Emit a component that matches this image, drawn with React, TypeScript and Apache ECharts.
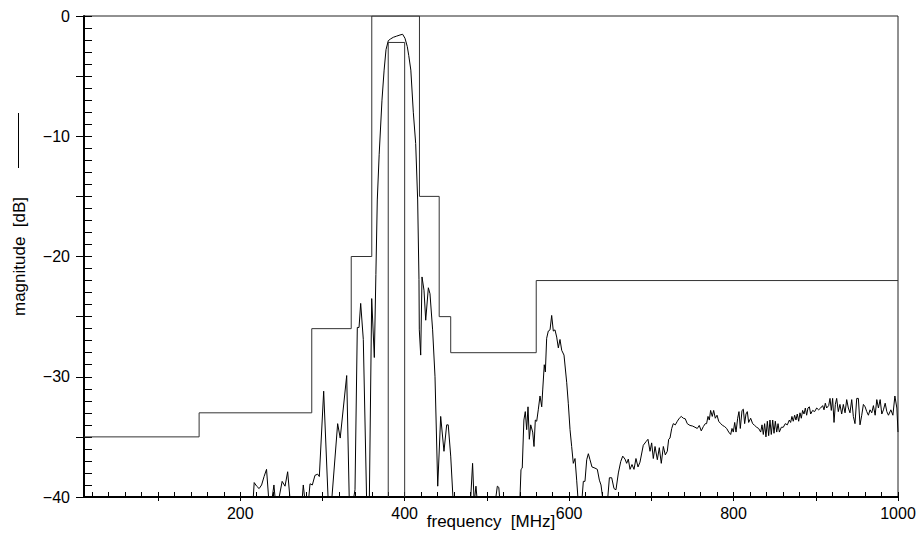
import React, { useEffect, useRef } from "react";
import * as echarts from "echarts";

// Upper limit mask: segment start frequencies [MHz] and levels [dB]
const maskFreq = [10, 150, 287, 335, 360, 418, 442, 456, 560, 1000];
const maskLevel = [-35, -33, -26, -20, 0, -15, -25, -28, -22, -22];

// Lower (passband) mask
const innerFreq = [380, 380, 400, 400];
const innerLevel = [-40, -2.2, -2.2, -40];

// Measured response, split into frequency ranges
const lowFreq = [10, 200, 215, 217, 220, 223, 226, 229, 232, 235, 238, 241, 243, 246, 251, 254.5, 257.7, 261, 275, 276.7, 279, 282.8, 284.9, 287.7, 290.9, 294.2, 296.2, 301.5, 307.1, 311, 318.5, 321.6, 329.5, 332.7, 337, 339.6, 342.4, 344.5, 346.5, 349.7, 353.8, 357, 359.9, 363.1];
const lowDb = [-45, -45, -41, -38.8, -39.1, -39.3, -39.0, -38.3, -37.7, -40.5, -40.5, -39.0, -40.5, -40.5, -38.7, -39.1, -37.9, -40.5, -40.5, -39.0, -40.5, -40.5, -38.9, -39.0, -38.2, -38.1, -38.3, -31.2, -40.5, -40.5, -33.9, -35.1, -29.9, -40.5, -40.5, -39.4, -25.9, -25.9, -23.9, -26.9, -40.5, -40.5, -23.5, -28.4];

const passFreq = [365, 366.7, 369, 372.4, 375, 377.3, 380.1, 383, 386.2, 390, 394.3, 397.5, 400.4, 403.2, 405, 407.5, 410.5, 413.4, 415.8, 417.4];
const passDb = [-21.5, -15.3, -11.5, -7.0, -4.5, -2.8, -2.05, -1.9, -1.77, -1.68, -1.58, -1.52, -1.85, -2.55, -3.3, -4.5, -8.0, -10.6, -15.3, -21.9];

const upFreq = [417.8, 419.5, 421.1, 423.5, 425.6, 428.8, 430.8, 434, 436.9, 440.2, 443.8, 447.8, 451.1, 453, 456, 459.1, 480, 482.6, 484.5, 486.7, 488.5, 510, 512.7, 514.5, 516, 540];
const upDb = [-26.1, -28.2, -21.7, -22.8, -25.3, -22.6, -23.1, -26.1, -30, -39.1, -33.3, -36.2, -34.0, -34.0, -36.6, -40.5, -40.5, -37.2, -40.5, -39.1, -40.5, -40.5, -39.1, -39.2, -40.5, -40.5];

const lobeFreq = [541.5, 543, 545, 546.7, 548.4, 550, 551.6, 553.3, 555.7, 557.3, 558.9, 560.6, 562.5, 564.6, 566.7, 567.9, 569.8, 571.1, 572.7, 574.7, 576.8, 578.8, 580.8, 582.8, 584.9, 586.9, 588.9, 591, 593.8, 597.1, 599, 601.1, 603.1, 605.1, 607.2, 609.2, 611.2, 615.3, 617.3, 619.3, 621.4, 623.4, 625.4, 627.8, 631.5, 634.3, 636.8, 638.8, 641.6, 646.5, 649, 651.8, 654.6, 657, 659.9, 662.8, 665.2, 668, 670, 672, 674.1, 676.5, 678.9, 681.3, 683.8, 686.2];
const lobeDb = [-37.7, -37.6, -33.6, -32.9, -34.4, -32.5, -35.2, -34.0, -34.6, -35.8, -33.6, -33.7, -32.75, -31.6, -32.5, -31.1, -29.0, -29.6, -26.8, -26.2, -26.1, -24.9, -26.2, -26.1, -26.7, -27.6, -26.9, -27.8, -28.2, -30.5, -32.2, -34.4, -35.8, -37.2, -36.8, -38.6, -40.5, -40.5, -38.7, -38.7, -36.9, -36.4, -36.9, -37.5, -37.6, -37.7, -38.6, -39.0, -40.5, -40.5, -38.4, -38.4, -39.3, -39.4, -38.0, -37.05, -36.6, -36.85, -37.2, -36.85, -37.7, -37.3, -37.7, -36.8, -37.5, -37.1];

const tailFreq = [690.2, 693.5, 695.9, 698.4, 700.4, 702.4, 704.5, 707.3, 709.7, 712.1, 714.6, 717, 719.4, 721.1, 722.7, 724.8, 726.7, 729.2, 731.6, 734, 736.4, 738.9, 741.3, 743.7, 747, 750.2, 753.1, 755.9, 758.3, 760.7, 763.2, 765.6, 767.2, 768.9, 770.5, 772.1, 774.1, 775.8, 777.8, 779.9, 781.9, 784.3, 786.8, 789.2, 791.6, 794.1, 796.5, 798.1, 799.7, 801.4, 803, 805, 806.6, 808.2, 810.3, 811.9, 813.5, 815.1, 816.7, 818.4, 820.8, 823.2, 825.7, 828.1, 830.5, 833, 834.6, 836.2, 837.8, 839.4, 841.1, 842.7, 844.3, 845.9, 847.6, 849.2, 850.8, 852.5, 854.1, 855.7, 858.1, 860.5, 862.9, 865.4, 867.8, 869.4, 871, 872.6, 874.3, 875.9, 877.5, 879.2, 880.8, 882.4, 884, 885.7, 887.3, 888.9, 890.5, 892.2, 893.8, 896.2, 898.6, 901.1, 903.5, 905.9, 908.4, 910, 911.6, 913.2, 915.7, 917.3, 918.9, 920.5, 922.2, 923.8, 925.4, 927.4, 929.4, 931.5, 933.5, 935.6, 937.6, 939.6, 941.6, 943.7, 945.7, 947.7, 949.8, 951.8, 953.8, 955.9, 957.9, 960, 962, 964, 966, 968.1, 970.1, 972.2, 974.2, 976.2, 978.3, 980.3, 982.3, 984.4, 986.4, 988.4, 991.3, 993.8, 996.2, 998.6, 1000];
const tailDb = [-35.7, -35.4, -35.2, -36.2, -35.5, -36.8, -35.8, -36.9, -35.9, -37.2, -35.8, -36.5, -36.2, -35.2, -35.1, -34.3, -33.9, -34.0, -33.7, -33.45, -33.3, -33.45, -33.5, -33.9, -34.05, -34.1, -34.2, -34.3, -34.05, -34.5, -34.15, -33.9, -33.9, -33.3, -33.6, -32.8, -33.3, -32.8, -33.45, -33.2, -33.7, -33.9, -34.05, -34.15, -34.3, -34.6, -34.8, -34.3, -34.6, -33.8, -34.6, -33.45, -32.9, -34.3, -32.8, -32.7, -33.9, -33.1, -32.9, -33.8, -33.45, -33.9, -34.05, -34.2, -34.3, -34.6, -34.0, -34.8, -33.9, -35.0, -33.7, -34.9, -33.6, -34.8, -33.6, -34.7, -33.7, -34.6, -33.9, -34.6, -34.2, -34.2, -33.9, -34.0, -33.6, -33.8, -33.3, -33.7, -33.2, -33.6, -33.1, -33.7, -33.0, -33.45, -32.8, -33.1, -32.6, -33.2, -32.6, -32.5, -33.1, -32.8, -32.9, -32.6, -32.75, -32.6, -32.4, -32.75, -32.2, -32.6, -32.4, -31.8, -32.8, -31.8, -33.8, -32.3, -31.8, -32.9, -32.3, -33.1, -32.3, -33.0, -31.9, -32.6, -33.0, -31.9, -33.3, -33.9, -31.8, -31.8, -34.0, -33.2, -32.3, -32.5, -32.9, -33.2, -32.75, -33.0, -32.4, -33.2, -31.9, -32.6, -31.9, -33.1, -32.75, -32.2, -32.9, -33.2, -32.75, -33.2, -31.6, -32.6, -34.6];

// Axis ticks / labels
const xLabelValues = [200, 400, 600, 800, 1000];
const xMajorTicks = [100, 200, 300, 400, 500, 600, 700, 800, 900, 1000];
const yLabelValues = [0, -10, -20, -30, -40];
const yMajorTicks = [0, -5, -10, -15, -20, -25, -30, -35, -40];

const FONT = "'Liberation Sans', Arial, sans-serif";

function zip(a: number[], b: number[]) {
  return a.map((v, i) => [v, b[i]]);
}

export default function App() {
  const ref = useRef<HTMLDivElement>(null);
  useEffect(() => {
    if (!ref.current) return;
    const chart = echarts.init(ref.current, null, { renderer: "svg" });
    const xMinor: number[] = [];
    for (let v = 20; v <= 1000; v += 20) xMinor.push(v);
    const yMinor: number[] = [];
    for (let v = -40; v <= 0; v += 1) yMinor.push(v);

    const curve = [
      ...zip(lowFreq, lowDb),
      ...zip(passFreq, passDb),
      ...zip(upFreq, upDb),
      ...zip(lobeFreq, lobeDb),
      ...zip(tailFreq, tailDb),
    ];
    const fmt = (v: number) => (v < 0 ? "\u2212" + Math.abs(v) : String(v));

    chart.setOption({
      animation: false,
      backgroundColor: "#fff",
      textStyle: { fontFamily: FONT },
      grid: {
        left: 84,
        top: 16,
        width: 814,
        height: 481,
        show: true,
        borderColor: "#222",
        borderWidth: 1,
        containLabel: false,
        outerBoundsMode: "none",
      },
      xAxis: [
        {
          type: "value",
          position: "bottom",
          min: 10,
          max: 1000,
          name: "frequency  [MHz]",
          nameLocation: "middle",
          nameGap: 16,
          nameMoveOverlap: false,
          nameTextStyle: { fontFamily: FONT, fontSize: 17, color: "#000" },
          axisLine: { show: true, onZero: false, lineStyle: { color: "#000", width: 2 } },
          axisTick: { show: true, inside: false, length: 4, customValues: xMajorTicks, lineStyle: { color: "#000", width: 1 } },
          axisLabel: {
            show: true,
            customValues: xLabelValues,
            margin: 8,
            fontFamily: FONT,
            fontSize: 16,
            color: "#000",
            formatter: (v: number) => String(v),
          },
          splitLine: { show: false },
        },
        {
          type: "value",
          position: "bottom",
          min: 10,
          max: 1000,
          axisLine: { show: false, onZero: false },
          axisTick: { show: true, inside: true, length: 5, customValues: xMinor, lineStyle: { color: "#000", width: 1 } },
          axisLabel: { show: false },
          splitLine: { show: false },
        },
      ],
      yAxis: [
        {
          type: "value",
          position: "left",
          min: -40,
          max: 0,
          interval: 10,
          name: "magnitude  [dB]",
          nameLocation: "middle",
          nameRotate: 90,
          nameGap: 56,
          nameMoveOverlap: false,
          nameTextStyle: { fontFamily: FONT, fontSize: 17, color: "#000" },
          axisLine: { show: true, onZero: false, lineStyle: { color: "#000", width: 2 } },
          axisTick: { show: true, inside: false, length: 8, customValues: yMajorTicks, lineStyle: { color: "#000", width: 1 } },
          axisLabel: { show: true, customValues: yLabelValues, margin: 14, fontFamily: FONT, fontSize: 16, color: "#000", formatter: fmt },
          splitLine: { show: false },
        },
        {
          type: "value",
          position: "left",
          min: -40,
          max: 0,
          axisLine: { show: false, onZero: false },
          axisTick: { show: true, inside: true, length: 8, customValues: yMinor, lineStyle: { color: "#000", width: 1 } },
          axisLabel: { show: false },
          splitLine: { show: false },
        },
      ],
      graphic: [
        {
          type: "line",
          shape: { x1: 18.5, y1: 113, x2: 18.5, y2: 168 },
          style: { stroke: "#000", lineWidth: 1 },
        },
      ],
      series: [
        {
          type: "line",
          data: zip(maskFreq, maskLevel),
          step: "end",
          showSymbol: false,
          symbol: "none",
          lineStyle: { color: "#333", width: 1 },
          clip: true,
          silent: true,
          z: 2,
        },
        {
          type: "line",
          data: zip(innerFreq, innerLevel),
          showSymbol: false,
          symbol: "none",
          lineStyle: { color: "#333", width: 1 },
          clip: true,
          silent: true,
          z: 2,
        },
        {
          type: "line",
          data: curve,
          showSymbol: false,
          symbol: "none",
          lineStyle: { color: "#000", width: 1 },
          clip: true,
          silent: true,
          z: 3,
        },
      ],
    });
    return () => chart.dispose();
  }, []);
  return (
    <div
      ref={ref}
      style={{ position: "absolute", left: 0, top: 0, width: 922, height: 548, background: "#fff" }}
    />
  );
}
